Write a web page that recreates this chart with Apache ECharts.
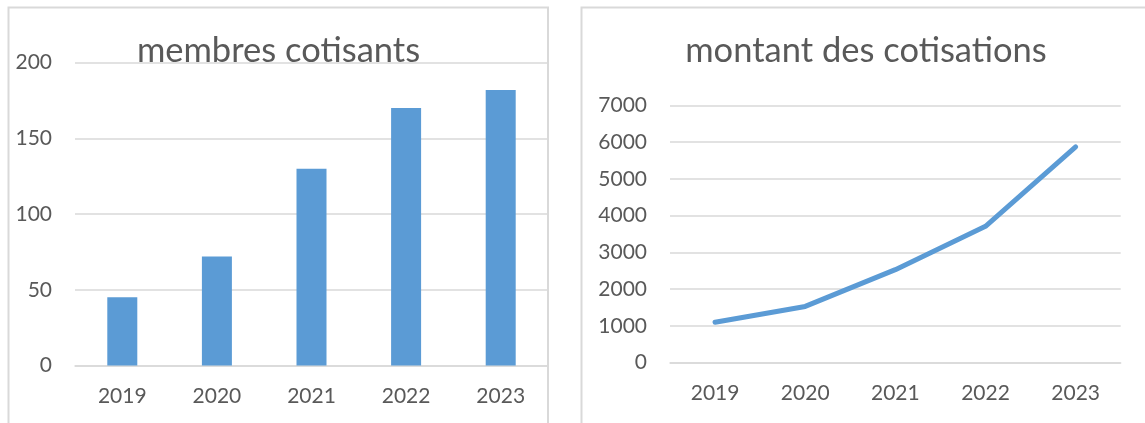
<!DOCTYPE html>
<html>
<head>
<meta charset="utf-8">
<script src="https://cdn.jsdelivr.net/npm/echarts@6/dist/echarts.min.js"></script>
<style>
html,body{margin:0;padding:0;background:#fff;}
#c{width:1145px;height:423px;}
</style>
</head>
<body>
<div id="c"></div>
<script>
const years = ['2019', '2020', '2021', '2022', '2023'];
const membres = [45, 72, 130, 170, 182];
const montant = [1100, 1530, 2530, 3710, 5870];
const titleLeft = 'membres cotisants';
const titleRight = 'montant des cotisations';

const FONT = 'Lato, "Open Sans", sans-serif';
const TXT = '#595959';
const GRID = '#D9D9D9';
const BLUE = '#5B9BD5';

const chart = echarts.init(document.getElementById('c'), null, {renderer: 'canvas'});

function xAxisCfg(idx) {
  return {
    type: 'category', gridIndex: idx, data: years,
    axisLine: {show: true, lineStyle: {color: GRID, width: 1.5}},
    axisTick: {show: false},
    axisLabel: {color: TXT, fontFamily: FONT, fontSize: 21, margin: 20}
  };
}
function yLabel() {
  return {color: TXT, fontFamily: FONT, fontSize: 21, margin: 23, formatter: v => String(v)};
}

chart.setOption({
  animation: false,
  backgroundColor: '#fff',
  graphic: [
    {type: 'rect', shape: {x: 8.5, y: 7.5, width: 539.5, height: 430},
     style: {fill: 'none', stroke: GRID, lineWidth: 2}},
    {type: 'rect', shape: {x: 581.5, y: 7.5, width: 600, height: 430},
     style: {fill: 'none', stroke: GRID, lineWidth: 2}},
    {type: 'text', x: 278.5, y: 51, style: {text: titleLeft, fill: TXT, fontFamily: FONT, fontSize: 34.5, align: 'center', verticalAlign: 'middle'}},
    {type: 'text', x: 866, y: 51, style: {text: titleRight, fill: TXT, fontFamily: FONT, fontSize: 34.5, align: 'center', verticalAlign: 'middle'}}
  ],
  grid: [
    {left: 75, right: 1145 - 548, top: 62.7, bottom: 423 - 365.5, containLabel: false},
    {left: 670, right: 1145 - 1120.7, top: 105.3, bottom: 423 - 362.7, containLabel: false}
  ],
  xAxis: [xAxisCfg(0), xAxisCfg(1)],
  yAxis: [
    {type: 'value', gridIndex: 0, min: 0, max: 200, interval: 50,
     axisLine: {show: false}, axisTick: {show: false},
     splitLine: {lineStyle: {color: GRID, width: 1.5}},
     axisLabel: yLabel()},
    {type: 'value', gridIndex: 1, min: 0, max: 7000, interval: 1000,
     axisLine: {show: false}, axisTick: {show: false},
     splitLine: {lineStyle: {color: GRID, width: 1.5}},
     axisLabel: yLabel()}
  ],
  series: [
    {type: 'bar', xAxisIndex: 0, yAxisIndex: 0, data: membres, barWidth: 30,
     itemStyle: {color: BLUE}, silent: true},
    {type: 'line', xAxisIndex: 1, yAxisIndex: 1, data: montant, showSymbol: false, symbol: 'none',
     lineStyle: {color: BLUE, width: 5, cap: 'round', join: 'round'}, silent: true}
  ]
});
</script>
</body>
</html>
